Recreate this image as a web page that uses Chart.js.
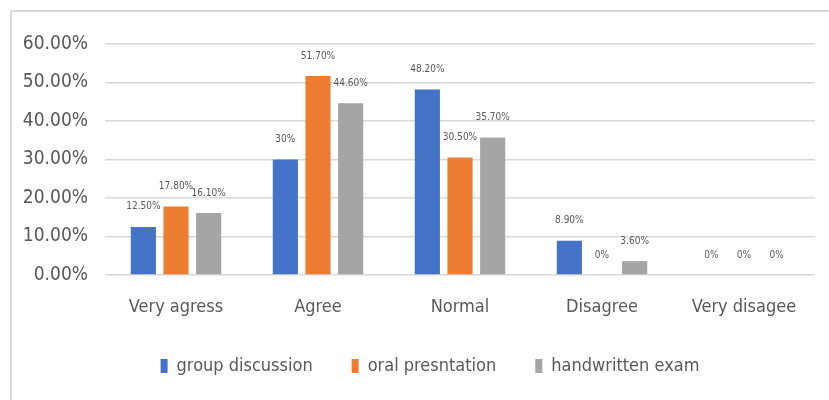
<!DOCTYPE html>
<html>
<head>
<meta charset="utf-8">
<script src="https://cdn.jsdelivr.net/npm/chart.js@4/dist/chart.umd.min.js"></script>
<style>
  html, body { margin: 0; padding: 0; background: #fff; overflow: hidden; }
  #frame { position: absolute; left: 10px; top: 10px; width: 840px; height: 420px; border: 2px solid #d9d9d9; box-sizing: border-box; }
  #wrap { position: absolute; left: 0; top: 0; width: 829px; height: 400px; }
</style>
</head>
<body>
<div id="frame"></div>
<div id="wrap"><canvas id="c"></canvas></div>
<script>
const categories = ["Very agress", "Agree", "Normal", "Disagree", "Very disagee"];
const seriesNames = ["group discussion", "oral presntation", "handwritten exam"];
const groupDiscussion = [12.5, 30, 48.2, 8.9, 0];
const oralPresentation = [17.8, 51.7, 30.5, 0, 0];
const handwrittenExam = [16.1, 44.6, 35.7, 3.6, 0];
const yTicks = [0, 10, 20, 30, 40, 50, 60];

const FONT = "'DejaVu Sans Condensed', 'Liberation Sans Narrow', 'Liberation Sans', sans-serif";
const TXT = "#595959";

function fmtLabel(v) {
  return Number.isInteger(v) ? v + "%" : v.toFixed(2) + "%";
}

const dataLabels = {
  id: "dataLabels",
  afterDatasetsDraw(chart) {
    const ctx = chart.ctx;
    ctx.save();
    ctx.font = "10px " + FONT;
    ctx.fillStyle = TXT;
    ctx.textAlign = "center";
    ctx.textBaseline = "middle";
    chart.data.datasets.forEach((ds, i) => {
      const meta = chart.getDatasetMeta(i);
      meta.data.forEach((el, j) => {
        ctx.fillText(fmtLabel(ds.data[j]), el.x, el.y - 20);
      });
    });
    ctx.restore();
  }
};

const legendShift = {
  id: "legendShift",
  afterLayout(chart) {
    if (chart.legend) {
      chart.legend.left += 17;
      chart.legend.right += 17;
    }
  }
};

new Chart(document.getElementById("c"), {
  type: "bar",
  data: {
    labels: categories,
    datasets: [
      { label: seriesNames[0], data: groupDiscussion, backgroundColor: "#4472C4" },
      { label: seriesNames[1], data: oralPresentation, backgroundColor: "#ED7D31" },
      { label: seriesNames[2], data: handwrittenExam, backgroundColor: "#A5A5A5" }
    ]
  },
  options: {
    responsive: true,
    maintainAspectRatio: false,
    animation: false,
    layout: { padding: { left: 11, right: 14, top: 44, bottom: 15 } },
    datasets: { bar: { categoryPercentage: 0.69, barPercentage: 0.77 } },
    plugins: {
      tooltip: { enabled: false },
      legend: {
        position: "bottom",
        labels: {
          font: { family: FONT, size: 18 },
          color: TXT,
          boxWidth: 7,
          boxHeight: 14,
          padding: 39
        }
      }
    },
    scales: {
      x: {
        grid: { display: false, drawTicks: false },
        border: { display: false },
        ticks: { font: { family: FONT, size: 18 }, color: TXT, padding: 22 },
        afterFit(s) { s.height = 43; }
      },
      y: {
        min: 0, max: 60,
        afterBuildTicks(s) { s.ticks = yTicks.map(v => ({ value: v })); },
        grid: { color: "#d9d9d9", lineWidth: 1.5, drawTicks: false },
        border: { display: false },
        ticks: {
          font: { family: FONT, size: 19 },
          color: TXT,
          padding: 17,
          callback: v => v.toFixed(2) + "%"
        },
        afterFit(s) { s.width = 94; }
      }
    }
  },
  plugins: [dataLabels, legendShift]
});
</script>
</body>
</html>
